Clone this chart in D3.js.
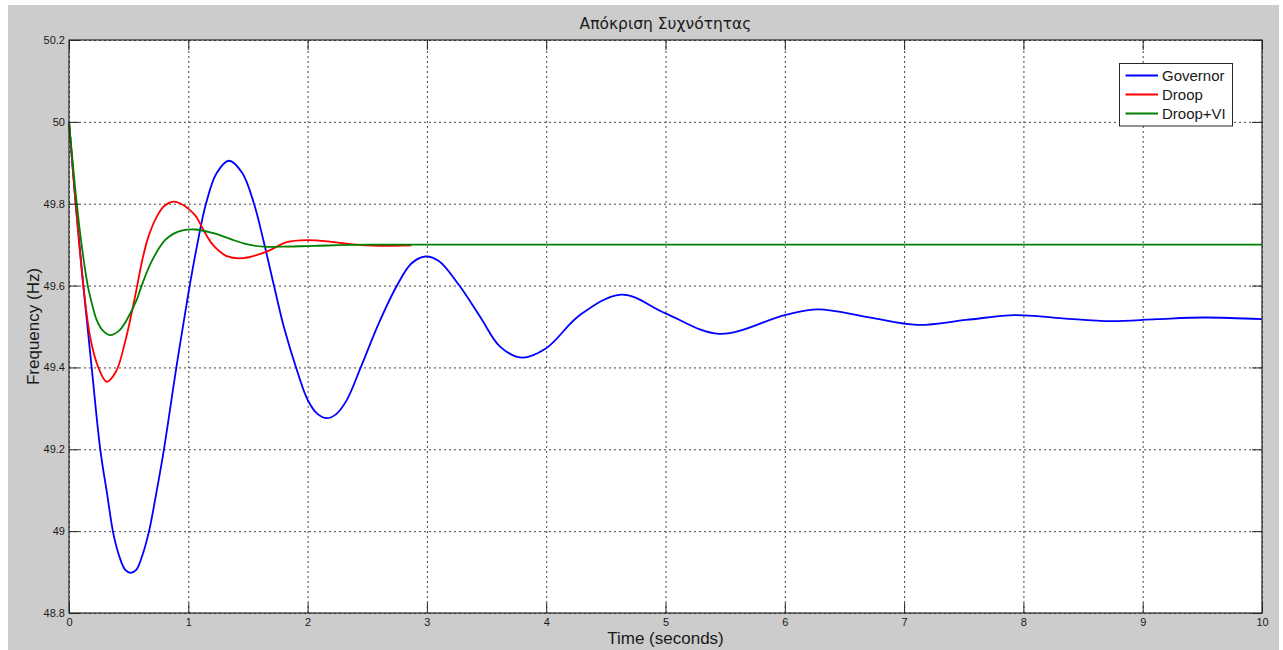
<!DOCTYPE html>
<html>
<head>
<meta charset="utf-8">
<script src="https://cdn.jsdelivr.net/npm/d3@7"></script>
<style>
  html, body { margin: 0; padding: 0; background: #ffffff; }
  svg { display: block; }
  text { font-family: "Liberation Sans", Arial, sans-serif; fill: #1a1a1a; }
</style>
</head>
<body>
<svg id="chart" width="1283" height="650"></svg>
<script>
// Axis ticks
const xTicks = [0, 1, 2, 3, 4, 5, 6, 7, 8, 9, 10];
const yTicks = [48.8, 49, 49.2, 49.4, 49.6, 49.8, 50, 50.2];

// Governor response: time (s) and frequency (Hz)
const timeGovernor = [0, 0.056, 0.12, 0.19, 0.262, 0.32, 0.371, 0.42, 0.47, 0.517, 0.565, 0.614, 0.671, 0.73,
  0.796, 0.90, 1.0, 1.075, 1.148, 1.238, 1.341, 1.45, 1.551, 1.63, 1.718, 1.8, 1.914, 2.0, 2.08, 2.16, 2.24,
  2.328, 2.448, 2.6, 2.747, 2.87, 2.987, 3.1, 3.272, 3.45, 3.613, 3.794, 4.0, 4.283, 4.633, 5.0, 5.45, 6.0,
  6.28, 6.695, 7.11, 7.52, 7.93, 8.33, 8.73, 9.12, 9.52, 10];
const freqGovernor = [50.0, 49.8, 49.6, 49.4, 49.2, 49.09, 48.995, 48.94, 48.906, 48.898, 48.906, 48.94, 49.0, 49.09,
  49.2, 49.4, 49.58, 49.7, 49.8, 49.875, 49.905, 49.876, 49.8, 49.71, 49.6, 49.5, 49.39, 49.321, 49.287, 49.276, 49.286,
  49.32, 49.402, 49.51, 49.599, 49.654, 49.671, 49.66, 49.6, 49.522, 49.451, 49.424, 49.447, 49.528, 49.578, 49.532, 49.482, 49.528,
  49.542, 49.523, 49.504, 49.516, 49.528, 49.52, 49.513, 49.518, 49.522, 49.518];

// Droop response
const timeDroop = [0, 0.056, 0.12, 0.18, 0.246, 0.316, 0.394, 0.47, 0.553, 0.614, 0.665, 0.735, 0.80, 0.874, 0.93,
  1.056, 1.098, 1.15, 1.21, 1.322, 1.461, 1.657, 1.825, 1.992, 2.2, 2.4, 2.6, 2.87];
const freqDroop = [50.0, 49.8, 49.6, 49.47, 49.4, 49.365, 49.39, 49.462, 49.572, 49.662, 49.719, 49.768, 49.795, 49.805, 49.801,
  49.772, 49.752, 49.724, 49.698, 49.672, 49.667, 49.683, 49.706, 49.711, 49.707, 49.700, 49.697, 49.698];

// Droop + virtual inertia response
const timeDroopVI = [0, 0.065, 0.11, 0.157, 0.184, 0.2, 0.232, 0.28, 0.344, 0.42, 0.484, 0.567, 0.609, 0.698, 0.805,
  0.916, 1.056, 1.21, 1.35, 1.49, 1.63, 1.77, 2.048, 2.5, 3.5, 5, 7.5, 10];
const freqDroopVI = [50.0, 49.8, 49.69, 49.6, 49.565, 49.547, 49.516, 49.491, 49.479, 49.49, 49.516, 49.565, 49.6, 49.662, 49.711,
  49.732, 49.737, 49.728, 49.714, 49.701, 49.695, 49.695, 49.697, 49.700, 49.700, 49.700, 49.700, 49.700];

const seriesNames = ["Governor", "Droop", "Droop+VI"];
const seriesColors = ["#0000ff", "#ff0000", "#008000"];
const seriesTimes = [timeGovernor, timeDroop, timeDroopVI];
const seriesFreqs = [freqGovernor, freqDroop, freqDroopVI];

const titleText = "Απόκριση Συχνότητας";
const xLabel = "Time (seconds)";
const yLabel = "Frequency (Hz)";

const svg = d3.select("#chart");
const W = 1283, H = 650;
const plot = { left: 69, top: 40, right: 1262, bottom: 613 };

// figure background
svg.append("rect").attr("x", 8).attr("y", 5).attr("width", 1271).attr("height", H - 5)
  .attr("fill", "#cccccc");

const x = d3.scaleLinear().domain([0, 10]).range([plot.left, plot.right]);
const y = d3.scaleLinear().domain([48.8, 50.2]).range([plot.bottom, plot.top]);

// plot area
svg.append("rect").attr("x", plot.left).attr("y", plot.top)
  .attr("width", plot.right - plot.left).attr("height", plot.bottom - plot.top)
  .attr("fill", "#ffffff");

// dotted grid
const gridX = svg.append("g").attr("transform", `translate(0,${plot.bottom})`)
  .call(d3.axisBottom(x).tickValues(xTicks).tickSize(-(plot.bottom - plot.top)).tickFormat(""));
const gridY = svg.append("g").attr("transform", `translate(${plot.left},0)`)
  .call(d3.axisLeft(y).tickValues(yTicks).tickSize(-(plot.right - plot.left)).tickFormat(""));
[gridX, gridY].forEach(g => {
  g.select(".domain").remove();
  g.selectAll("line").attr("stroke", "#444").attr("stroke-width", 1).attr("stroke-dasharray", "2,3");
});

// curves
const line = d3.line().curve(d3.curveCatmullRom.alpha(0.5));
seriesNames.forEach((name, i) => {
  const pts = seriesTimes[i].map((t, j) => [x(t), y(seriesFreqs[i][j])]);
  svg.append("path").attr("d", line(pts)).attr("fill", "none")
    .attr("stroke", seriesColors[i]).attr("stroke-width", 1.8).attr("stroke-linejoin", "round");
});

// axes with inward ticks
const tickLen = 10;
const axB = svg.append("g").attr("transform", `translate(0,${plot.bottom})`)
  .call(d3.axisBottom(x).tickValues(xTicks).tickSizeInner(-tickLen).tickSizeOuter(0).tickPadding(5).tickFormat(d3.format("d")));
const axL = svg.append("g").attr("transform", `translate(${plot.left},0)`)
  .call(d3.axisLeft(y).tickValues(yTicks).tickSizeInner(-tickLen).tickSizeOuter(0).tickPadding(4).tickFormat(d => String(+d.toFixed(1))));
const axT = svg.append("g").attr("transform", `translate(0,${plot.top})`)
  .call(d3.axisTop(x).tickValues(xTicks).tickSizeInner(-tickLen).tickSizeOuter(0).tickFormat(""));
const axR = svg.append("g").attr("transform", `translate(${plot.right},0)`)
  .call(d3.axisRight(y).tickValues(yTicks).tickSizeInner(-tickLen).tickSizeOuter(0).tickFormat(""));
[axB, axL, axT, axR].forEach(g => {
  g.select(".domain").remove();
  g.selectAll("line").attr("stroke", "#262626").attr("stroke-width", 1);
  g.selectAll("text").style("font-size", "11px").attr("fill", "#1a1a1a")
    .style("font-family", "'Liberation Sans', Arial, sans-serif");
});

// axes box
svg.append("rect").attr("x", plot.left).attr("y", plot.top)
  .attr("width", plot.right - plot.left).attr("height", plot.bottom - plot.top)
  .attr("fill", "none").attr("stroke", "#262626").attr("stroke-width", 1.2);

// title and axis labels
svg.append("text").attr("x", (plot.left + plot.right) / 2).attr("y", 29)
  .attr("text-anchor", "middle").style("font-family", "'DejaVu Sans', sans-serif")
  .style("font-size", "15.5px").text(titleText);
svg.append("text").attr("x", (plot.left + plot.right) / 2).attr("y", 644)
  .attr("text-anchor", "middle").style("font-size", "17px").text(xLabel);
svg.append("text").attr("transform", `translate(39,${(plot.top + plot.bottom) / 2}) rotate(-90)`)
  .attr("text-anchor", "middle").style("font-size", "17px").text(yLabel);

// legend
const leg = svg.append("g");
leg.append("rect").attr("x", 1119.5).attr("y", 63.5).attr("width", 113).attr("height", 62.5)
  .attr("fill", "#ffffff").attr("stroke", "#262626").attr("stroke-width", 1);
seriesNames.forEach((name, i) => {
  const cy = 75.5 + i * 19;
  leg.append("line").attr("x1", 1125.5).attr("x2", 1158).attr("y1", cy).attr("y2", cy)
    .attr("stroke", seriesColors[i]).attr("stroke-width", 1.8);
  leg.append("text").attr("x", 1162).attr("y", cy + 5.5).style("font-size", "15px").text(name);
});
</script>
</body>
</html>
